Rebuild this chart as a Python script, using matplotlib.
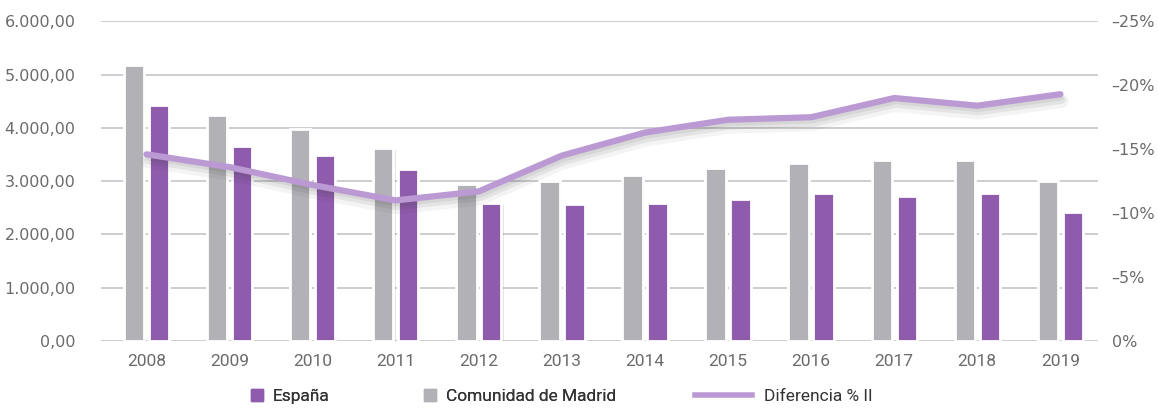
import matplotlib
matplotlib.use("Agg")
import matplotlib.pyplot as plt
import matplotlib.patheffects as pe
from matplotlib.lines import Line2D
from matplotlib.ticker import FuncFormatter
import numpy as np

years = ["2008", "2009", "2010", "2011", "2012", "2013", "2014", "2015", "2016", "2017", "2018", "2019"]
madrid = [5180, 4250, 3975, 3630, 2940, 3010, 3110, 3250, 3350, 3390, 3390, 3005]
espana = [4425, 3660, 3490, 3220, 2595, 2565, 2595, 2660, 2770, 2730, 2770, 2425]
diferencia = [-14.6, -13.6, -12.2, -11.0, -11.7, -14.5, -16.3, -17.3, -17.5, -19.0, -18.4, -19.3]

PURPLE = "#8f5bad"
GREY = "#b2b1b6"
LINE = "#bb9ad4"
GRID = "#cdcdd1"
TXT = "#6b6b6b"


def fmt_es(v, _):
    s = f"{v:,.2f}"
    return s.replace(",", "X").replace(".", ",").replace("X", ".")


def fmt_pct(v, _):
    v = int(round(v))
    return "0%" if v == 0 else f"\u2013{abs(v)}%"


fig = plt.figure(figsize=(11.58, 4.09), dpi=100)
ax = fig.add_axes([0.087, 0.166, 0.861, 0.782])
ax2 = ax.twinx()

x = np.arange(len(years))
w = 0.245
bar_fx = [pe.SimplePatchShadow(offset=(1.5, -1.5), shadow_rgbFace="0.5", alpha=0.2), pe.Normal()]
ax.bar(x - 0.15, madrid, w, color=GREY, edgecolor="white", linewidth=2, zorder=3, path_effects=bar_fx)
ax.bar(x + 0.15, espana, w, color=PURPLE, edgecolor="white", linewidth=2, zorder=3, path_effects=bar_fx)

ax.set_ylim(0, 6000)
ax.set_xlim(-0.55, 11.45)
ax.set_yticks(range(0, 6001, 1000))
ax.yaxis.set_major_formatter(FuncFormatter(fmt_es))
ax.grid(axis="y", color=GRID, linewidth=1.4, zorder=0)
ax.set_axisbelow(True)
ax.set_xticks(x)
ax.set_xticklabels(years, fontfamily="Roboto", fontsize=12.5, color=TXT)
ax.tick_params(axis="y", colors=TXT, labelsize=11.5, length=0, pad=18)
ax.tick_params(axis="x", length=0, pad=9)
for sp in ax.spines.values():
    sp.set_visible(False)

line_fx = [pe.SimpleLineShadow(offset=(1, -5), shadow_color="0.2", alpha=0.05, linewidth=10),
           pe.SimpleLineShadow(offset=(1, -4), shadow_color="0.2", alpha=0.08, linewidth=6),
           pe.SimpleLineShadow(offset=(1, -3), shadow_color="0.2", alpha=0.08, linewidth=3),
           pe.Normal()]
ax2.plot(x, diferencia, color=LINE, linewidth=4.5, solid_capstyle="round", zorder=5, path_effects=line_fx)
ax2.set_ylim(0, -25)
ax2.set_yticks(range(0, -26, -5))
ax2.yaxis.set_major_formatter(FuncFormatter(fmt_pct))
ax2.tick_params(axis="y", colors=TXT, labelsize=11.5, length=0, pad=10)
for sp in ax2.spines.values():
    sp.set_visible(False)

font = {"family": "Roboto", "size": 12.5}
bar_handles = [Line2D([], [], marker="s", linestyle="none", markersize=8, color=PURPLE),
               Line2D([], [], marker="s", linestyle="none", markersize=8, color=GREY)]
leg1 = fig.legend(bar_handles, ["España", "Comunidad de Madrid"],
                  loc="lower center", bbox_to_anchor=(0.375, -0.025), ncol=2, frameon=False,
                  prop=font, labelcolor="#333333", columnspacing=5.5,
                  handlelength=0.6, handletextpad=0.6)
fig.add_artist(leg1)
fig.legend([Line2D([], [], color=LINE, linewidth=4)], ["Diferencia % II"],
           loc="lower center", bbox_to_anchor=(0.677, -0.025), frameon=False,
           prop=font, labelcolor="#333333", handlelength=3.3, handletextpad=0.7)

fig.savefig("out.png", dpi=100)
